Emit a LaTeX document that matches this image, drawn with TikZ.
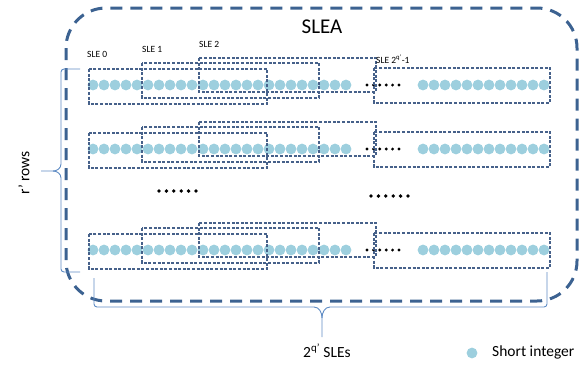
\documentclass[tikz,border=0pt]{standalone}
\usepackage{fontspec}
\setmainfont{Carlito}
\definecolor{outerc}{RGB}{60,98,145}
\definecolor{boxc}{RGB}{70,97,138}
\definecolor{bracec}{RGB}{95,140,196}
\definecolor{sintc}{RGB}{157,207,222}
\tikzset{
  outerline/.style={draw=outerc,line width=3pt,dash pattern=on 12pt off 8pt},
  slebox/.style={draw=boxc,line width=1.1pt,dash pattern=on 3pt off 1.6pt},
  bracel/.style={draw=bracec,line width=0.9pt},
  sint/.style={fill=sintc},
  blackdot/.style={fill=black},
  lbl/.style={inner sep=0pt,font=\fontsize{9.5}{10}\selectfont},
  biglbl/.style={inner sep=0pt,font=\fontsize{15.5}{17}\selectfont}
}
\begin{document}
\begin{tikzpicture}[x=1pt,y=-1pt]
\useasboundingbox (0,0) rectangle (587,365);
% outer dashed rounded rectangle
\draw[outerline,rounded corners=40pt] (66,8) rectangle (577,301);
\node[inner sep=0pt,font=\fontsize{21}{23}\selectfont] (title) at (322,27) {SLEA};
% rows
\foreach \c/\n in {85/a,149/b,250/c}{
  \foreach \i in {0,...,23}{\fill[sint] (93+11*\i,\c) circle (5.4);}
  \foreach \i in {0,...,11}{\fill[sint] (423+11*\i,\c) circle (5.4);}
  \foreach \i in {0,...,5}{\fill[blackdot] (367+6.4*\i,\c) circle (1.6);}
  \draw[slebox] (89,\c-16) rectangle (267,\c+19);
  \draw[slebox] (142,\c-22) rectangle (319,\c+13);
  \draw[slebox] (199,\c-27) rectangle (376,\c+7);
  \draw[slebox] (374,\c-17) rectangle (550,\c+18);
}
% middle dots
\foreach \i in {0,...,5}{\fill[blackdot] (159+7.4*\i,191) circle (1.9);}
\foreach \i in {0,...,5}{\fill[blackdot] (371+7.4*\i,196) circle (1.9);}
% SLE labels
\node[lbl,anchor=base west] (s0) at (87,57) {SLE 0};
\node[lbl,anchor=base west] (s1) at (142,52) {SLE 1};
\node[lbl,anchor=base west] (s2) at (199,47) {SLE 2};
\node[lbl,anchor=base west] (sl) at (376,63) {SLE 2\textsuperscript{q’}-1};
% left brace
\coordinate (lbt) at (80,69);
\coordinate (lbb) at (80,272);
\coordinate (lbtip) at (41,171);
\draw[bracel] (lbt) -- (64,69) to[out=180,in=90] (61,72) -- (61,164)
  to[out=-90,in=0] (53,171) -- (lbtip);
\draw[bracel] (lbb) -- (64,272) to[out=180,in=-90] (61,269) -- (61,178)
  to[out=90,in=0] (53,171);
\node[biglbl,rotate=90] (rows) at (24,173) {r’ rows};
% bottom brace
\coordinate (bbl) at (94,278);
\coordinate (bbr) at (547,272);
\coordinate (bbtip) at (322,337);
\draw[bracel] (bbl) -- (94,304) to[out=-90,in=180] (97,307) -- (314,307)
  to[out=0,in=90] (322,318) -- (bbtip);
\draw[bracel] (bbr) -- (547,304) to[out=-90,in=0] (544,307) -- (330,307)
  to[out=180,in=90] (322,318);
\node[biglbl,anchor=base west] (sles) at (303,357) {2\textsuperscript{q’} SLEs};
% legend
\fill[sint] (472,353) circle (5.4);
\node[biglbl,anchor=base west] (legend) at (492,356) {Short integer};
\end{tikzpicture}
\end{document}
